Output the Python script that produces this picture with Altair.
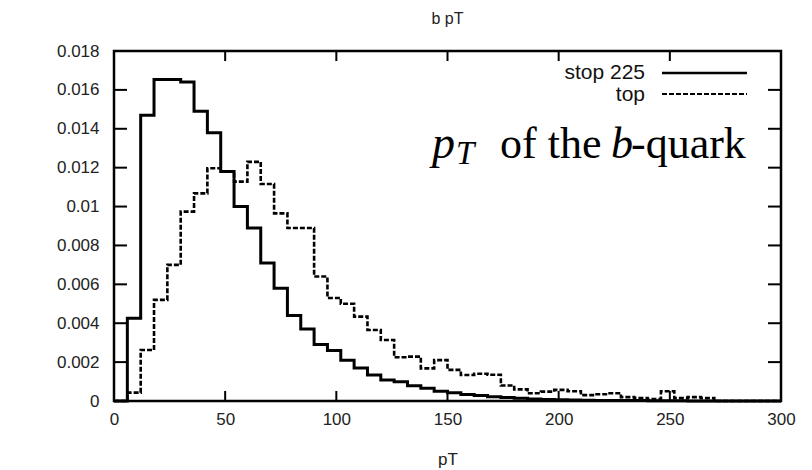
import altair as alt
import pandas as pd

# ---- data ----
bin_low = [0, 6, 12, 18, 24, 30, 36, 42, 48, 54, 60, 66, 72, 78, 84, 90, 96, 102, 108, 114,
           120, 126, 132, 138, 144, 150, 156, 162, 168, 174, 180, 186, 192, 198, 204, 210, 216,
           222, 228, 234, 240, 246, 252, 258, 264, 270, 276, 282, 288, 294]
bin_high_last = 300

stop225 = [0.0, 0.00425, 0.0147, 0.01654, 0.01654, 0.0164, 0.0149, 0.0138, 0.0118, 0.0100,
           0.0089, 0.0071, 0.0058, 0.0044, 0.0037, 0.0029, 0.0026, 0.0021, 0.0017, 0.00134,
           0.00108, 0.00099, 0.00079, 0.00065, 0.00050, 0.00042, 0.00034, 0.00028, 0.00022, 0.00018,
           0.00014, 0.00010, 0.00008, 0.00007, 0.00005, 0.00004, 0.00003, 0.00003, 0.00002, 0.00002,
           0.00001, 0.00001, 0.00001, 0.0, 0.0, 0.0, 0.0, 0.0, 0.0, 0.0]

top = [0.0, 0.00043, 0.00262, 0.0052, 0.0070, 0.00974, 0.01068, 0.01197, 0.0118, 0.01128,
       0.0123, 0.01116, 0.00965, 0.0089, 0.0089, 0.0064, 0.0053, 0.0050, 0.00434, 0.00365,
       0.00314, 0.00225, 0.00228, 0.00168, 0.0021, 0.0016, 0.00134, 0.0014, 0.00135, 0.0008,
       0.0006, 0.0004, 0.00048, 0.00057, 0.0005, 0.0003, 0.00035, 0.0004, 0.0002, 0.00015,
       0.0001, 0.0005, 0.00015, 0.0002, 0.00015, 0.0, 0.0, 0.0, 0.0, 0.0]

series_names = ["stop 225", "top"]
x_ticks = [0, 50, 100, 150, 200, 250, 300]
y_ticks = [0, 0.002, 0.004, 0.006, 0.008, 0.01, 0.012, 0.014, 0.016, 0.018]
inner_y_ticks = [0.002, 0.004, 0.006, 0.008, 0.01, 0.012, 0.014, 0.016]

rows = []
for name, vals in zip(series_names, [stop225, top]):
    for xl, v in zip(bin_low, vals):
        rows.append({"series": name, "pT": xl, "val": v})
    rows.append({"series": name, "pT": bin_high_last, "val": vals[-1]})
df = pd.DataFrame(rows)

W, H = 667, 350
FONT = "Liberation Sans"
SERIF = "Liberation Serif"

xscale = alt.Scale(domain=[0, 300], nice=False, zero=False)
yscale = alt.Scale(domain=[0, 0.018], nice=False)

AX_X = alt.Axis(values=x_ticks, ticks=False, domain=False, grid=False,
                labelPadding=10, titlePadding=24, labelFlush=False, labelOverlap=False)
AX_Y = alt.Axis(values=y_ticks, format="~g", ticks=False, domain=False, grid=False,
                labelPadding=15, labelOverlap=False, labelFlush=False)


def xenc(field):
    return alt.X(field, scale=xscale, title="pT", axis=AX_X)


def yenc(field):
    return alt.Y(field, scale=yscale, title=None, axis=AX_Y)


lines = alt.Chart(df).mark_line(interpolate="step-after", color="black").encode(
    x=xenc("pT:Q"),
    y=yenc("val:Q"),
    strokeDash=alt.StrokeDash("series:N", scale=alt.Scale(domain=series_names, range=[[1, 0], [5, 2]]), legend=None),
    strokeWidth=alt.StrokeWidth("series:N", scale=alt.Scale(domain=series_names, range=[3, 2.6]), legend=None),
    detail="series:N",
)

xt = pd.DataFrame({"t": x_ticks[1:-1]})
yt = pd.DataFrame({"t": inner_y_ticks})

xt_bottom = alt.Chart(xt).mark_rule(color="black", strokeWidth=2).encode(
    x=xenc("t:Q"), y=alt.value(H), y2=alt.value(H - 10))
xt_top = alt.Chart(xt).mark_rule(color="black", strokeWidth=2).encode(
    x=xenc("t:Q"), y=alt.value(0), y2=alt.value(10))
yt_left = alt.Chart(yt).mark_rule(color="black", strokeWidth=2).encode(
    y=yenc("t:Q"), x=alt.value(0), x2=alt.value(13))
yt_right = alt.Chart(yt).mark_rule(color="black", strokeWidth=2).encode(
    y=yenc("t:Q"), x=alt.value(W), x2=alt.value(W - 13))

# legend (drawn by hand, gnuplot style: label then sample line)
leg_text1 = alt.Chart(pd.DataFrame({"s": [series_names[0]]})).mark_text(
    align="right", baseline="middle", font=FONT, fontSize=21, color="#111"
).encode(text="s:N", x=alt.value(531), y=alt.value(22))
leg_text2 = alt.Chart(pd.DataFrame({"s": [series_names[1]]})).mark_text(
    align="right", baseline="middle", font=FONT, fontSize=21, color="#111"
).encode(text="s:N", x=alt.value(531), y=alt.value(44))
leg_solid = alt.Chart(pd.DataFrame({"s": [series_names[0]]})).mark_rule(color="black", strokeWidth=2.5).encode(
    x=alt.value(548), x2=alt.value(633), y=alt.value(22))
leg_dash = alt.Chart(pd.DataFrame({"s": [series_names[1]]})).mark_rule(color="black", strokeWidth=2.2,
                                                                         strokeDash=[5, 2]).encode(
    x=alt.value(548), x2=alt.value(633), y=alt.value(43))

# annotation "p_T of the b-quark"
ann_p = alt.Chart(pd.DataFrame({"s": ["p"]})).mark_text(
    align="left", baseline="alphabetic", font=SERIF, fontSize=46, fontStyle="italic", color="black"
).encode(text="s:N", x=alt.value(318), y=alt.value(107))
ann_T = alt.Chart(pd.DataFrame({"s": ["T"]})).mark_text(
    align="left", baseline="alphabetic", font=SERIF, fontSize=33, fontStyle="italic", color="black"
).encode(text="s:N", x=alt.value(342), y=alt.value(113))
ann_of = alt.Chart(pd.DataFrame({"s": ["of the"]})).mark_text(
    align="left", baseline="alphabetic", font=SERIF, fontSize=44, color="black"
).encode(text="s:N", x=alt.value(386), y=alt.value(107))
ann_b = alt.Chart(pd.DataFrame({"s": ["b"]})).mark_text(
    align="left", baseline="alphabetic", font=SERIF, fontSize=44, fontStyle="italic", color="black"
).encode(text="s:N", x=alt.value(497), y=alt.value(107))
ann_q = alt.Chart(pd.DataFrame({"s": ["-quark"]})).mark_text(
    align="left", baseline="alphabetic", font=SERIF, fontSize=44, color="black"
).encode(text="s:N", x=alt.value(517), y=alt.value(107))

chart = alt.layer(
    lines, xt_bottom, xt_top, yt_left, yt_right,
    leg_text1, leg_text2, leg_solid, leg_dash,
    ann_p, ann_T, ann_of, ann_b, ann_q,
).properties(
    width=W, height=H,
    title=alt.TitleParams("b pT", font=FONT, fontSize=16, fontWeight="normal", color="#222",
                          anchor="middle", offset=15),
    autosize=alt.AutoSizeParams(type="none"),
    padding={"left": 106, "top": 43, "right": 20, "bottom": 67},
    background="white",
).configure_view(
    stroke="black", strokeWidth=2.5
).configure_axis(
    labelFont=FONT, labelFontSize=17, labelColor="#222",
    titleFont=FONT, titleFontSize=17, titleColor="#222", titleFontWeight="normal",
)

chart.save("out.html", embed_options={"renderer": "svg", "actions": False})
